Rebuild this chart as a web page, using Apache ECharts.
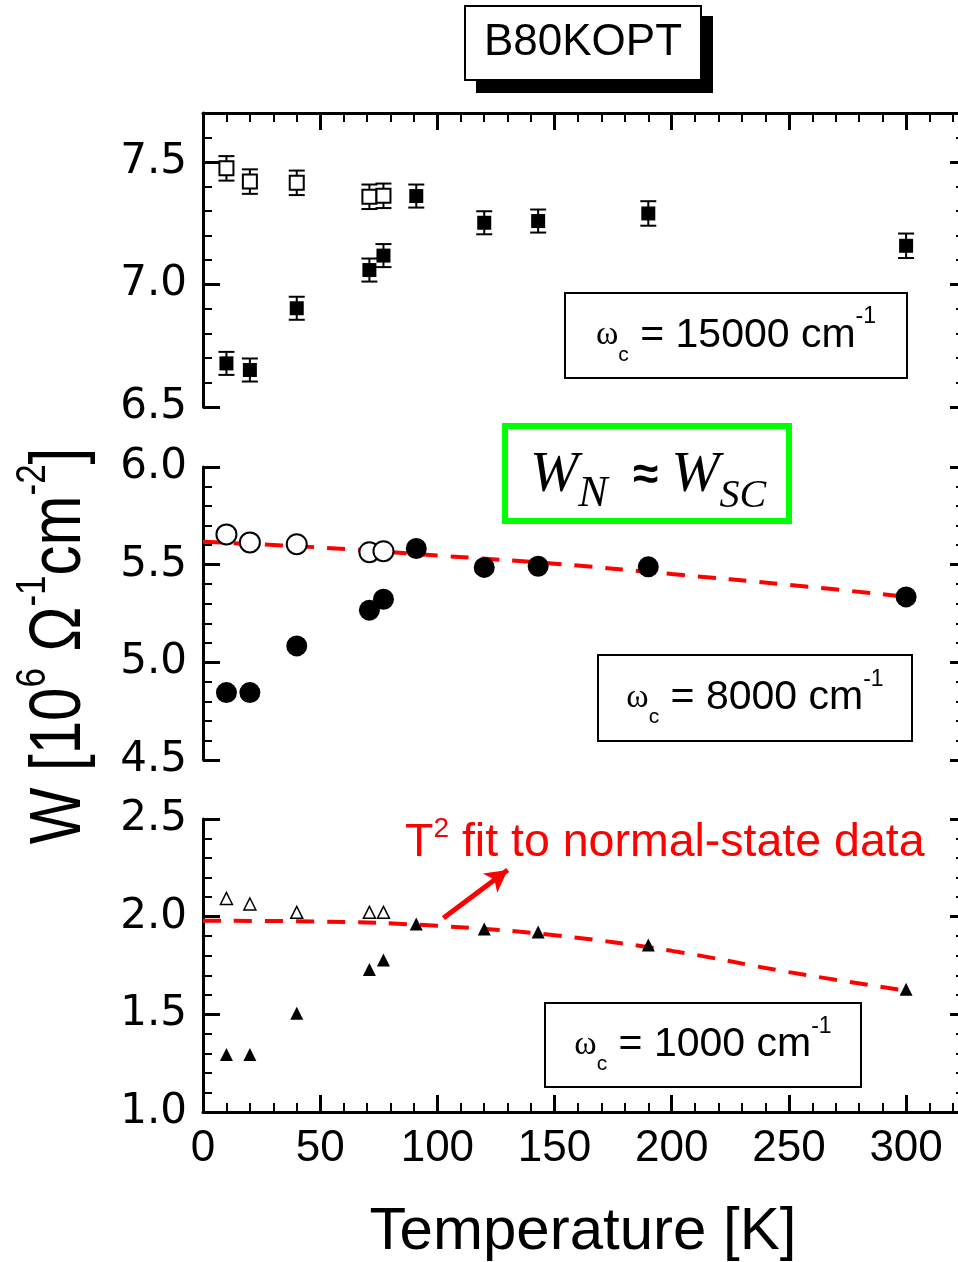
<!DOCTYPE html>
<html>
<head>
<meta charset="utf-8">
<script src="https://cdn.jsdelivr.net/npm/echarts@6/dist/echarts.min.js"></script>
<style>
  html, body { margin: 0; padding: 0; background: #fff; }
  #chart { width: 958px; height: 1262px; }
</style>
</head>
<body>
<div id="chart"></div>
<script>
// temperatures [K]
const tempSC = [10, 20, 40, 71, 77];
const tempAll = [10, 20, 40, 71, 77, 91, 120, 143, 190, 300];
const tempFit = [0, 50, 100, 150, 200, 250, 300];

// wc = 15000 cm-1
const w15000Open = [7.474, 7.420, 7.415, 7.358, 7.362];
const err15000Open = [0.05, 0.05, 0.05, 0.05, 0.05];
const w15000 = [6.678, 6.651, 6.903, 7.059, 7.118, 7.361, 7.252, 7.259, 7.290, 7.158];
const err15000 = [0.047, 0.047, 0.047, 0.047, 0.047, 0.047, 0.047, 0.047, 0.05, 0.05];

// wc = 8000 cm-1
const w8000Open = [5.655, 5.614, 5.605, 5.564, 5.569];
const w8000 = [4.845, 4.845, 5.084, 5.267, 5.323, 5.583, 5.486, 5.492, 5.489, 5.335];
const fit8000 = [5.617, 5.588, 5.547, 5.505, 5.452, 5.397, 5.336];

// wc = 1000 cm-1
const w1000Open = [2.093, 2.065, 2.022, 2.022, 2.022];
const w1000 = [1.295, 1.295, 1.505, 1.730, 1.778, 1.962, 1.937, 1.921, 1.855, 1.628];
const fit1000 = [1.979, 1.975, 1.953, 1.905, 1.825, 1.716, 1.621];

// arrow from the fit label down to the curve
const arrowFrom = [102.6, 1.993];
const arrowTo = [130, 2.239];

// axis ranges
const xRange = [0, 323];
const yRanges = [[6.5, 7.7], [4.5, 6.0], [1.0, 2.5]];

const SANS = '"Liberation Sans", Arial, sans-serif';
const SERIF = '"Liberation Serif", "Times New Roman", serif';
const RED = '#ff0000';

const zip = (xs, ys) => xs.map((x, i) => [x, ys[i]]);

const grids = [
  { left: 203, top: 113, width: 757, height: 294 },
  { left: 203, top: 467, width: 757, height: 293 },
  { left: 203, top: 819, width: 757, height: 293 },
].map(g => Object.assign(g, { outerBoundsMode: 'none', containLabel: false }));

const blackLine = { color: '#000', width: 3 };

function xAxis(i, pos, show) {
  return {
    type: 'value', gridIndex: i, position: pos, show: show,
    min: xRange[0], max: xRange[1], interval: 50,
    axisLine: { show: true, onZero: false, lineStyle: blackLine },
    axisTick: { inside: true, length: 17, lineStyle: blackLine },
    minorTick: { show: true, splitNumber: 5, length: 9, lineStyle: { color: '#000', width: 2 } },
    splitLine: { show: false },
    axisLabel: {
      show: pos === 'bottom', margin: 15, color: '#000', fontFamily: SANS, fontSize: 44,
      formatter: v => (v % 50 === 0 ? String(v) : '')
    }
  };
}

function yAxis(i, side) {
  const left = side === 'left';
  return {
    type: 'value', gridIndex: i, position: side,
    min: yRanges[i][0], max: yRanges[i][1], interval: 0.5,
    axisLine: { show: true, onZero: false, lineStyle: blackLine },
    axisTick: { show: true, inside: true, length: left ? 17 : 10, lineStyle: blackLine },
    minorTick: { show: true, splitNumber: 5, length: left ? 9 : 4, lineStyle: { color: '#000', width: 2 } },
    splitLine: { show: false },
    axisLabel: {
      show: left, margin: 16, color: '#000', fontFamily: '"DejaVu Sans", sans-serif', fontSize: 42,
      formatter: v => (Math.abs(v * 2 - Math.round(v * 2)) < 1e-6 ? v.toFixed(1) : '')
    }
  };
}

function errorBars(i, xs, ys, errs) {
  return {
    type: 'custom', xAxisIndex: i, yAxisIndex: i * 2, z: 3, silent: true,
    data: xs.map((t, k) => [t, ys[k] - errs[k], ys[k] + errs[k]]),
    encode: { x: 0, y: [1, 2] },
    renderItem(params, api) {
      const lo = api.coord([api.value(0), api.value(1)]);
      const hi = api.coord([api.value(0), api.value(2)]);
      const hw = 8;
      const style = { stroke: '#000', lineWidth: 2 };
      return {
        type: 'group', children: [
          { type: 'line', shape: { x1: lo[0], y1: lo[1], x2: hi[0], y2: hi[1] }, style },
          { type: 'line', shape: { x1: lo[0] - hw, y1: lo[1], x2: lo[0] + hw, y2: lo[1] }, style },
          { type: 'line', shape: { x1: hi[0] - hw, y1: hi[1], x2: hi[0] + hw, y2: hi[1] }, style }
        ]
      };
    }
  };
}

function points(i, xs, ys, symbol, size, open, bw) {
  return {
    type: 'scatter', xAxisIndex: i, yAxisIndex: i * 2, z: 5, silent: true,
    symbol: symbol, symbolSize: size,
    itemStyle: open
      ? { color: '#fff', borderColor: '#000', borderWidth: bw || 2, opacity: 1 }
      : { color: '#000', opacity: 1 },
    data: zip(xs, ys)
  };
}

function fitLine(i, ys) {
  return {
    type: 'line', xAxisIndex: i, yAxisIndex: i * 2, z: 4, silent: true,
    smooth: 0.4, showSymbol: false, symbol: 'none',
    lineStyle: { color: RED, width: 4, type: [18, 13] },
    data: zip(tempFit, ys)
  };
}

const series = [
  errorBars(0, tempSC, w15000Open, err15000Open),
  errorBars(0, tempAll, w15000, err15000),
  points(0, tempSC, w15000Open, 'rect', 14, true),
  points(0, tempAll, w15000, 'rect', 14, false),

  fitLine(1, fit8000),
  points(1, tempSC, w8000Open, 'circle', 20, true),
  points(1, tempAll, w8000, 'circle', 21, false),

  Object.assign(fitLine(2, fit1000), {
    markLine: {
      silent: true, symbol: ['none', 'arrow'], symbolSize: [18, 22],
      label: { show: false },
      lineStyle: { color: RED, width: 5, type: 'solid' },
      data: [[{ coord: arrowFrom }, { coord: arrowTo }]]
    }
  }),
  points(2, tempSC, w1000Open, 'triangle', 12, true, 1.5),
  points(2, tempAll, w1000, 'triangle', 13, false),
];

// text boxes and titles
function omegaBox(x, y, w, h, value) {
  return {
    type: 'group', children: [
      { type: 'rect', shape: { x: x, y: y, width: w, height: h }, style: { fill: '#fff', stroke: '#000', lineWidth: 2 } },
      {
        type: 'text', x: x + w / 2, y: y + h / 2,
        style: {
          text: '{w|ω}{sub|c}{m| = ' + value + ' cm}{sup|-1}',
          align: 'center', verticalAlign: 'middle',
          rich: {
            w: { fontFamily: SERIF, fontSize: 34, lineHeight: 60, fill: '#000' },
            sub: { fontFamily: SANS, fontSize: 21, lineHeight: 18, verticalAlign: 'bottom', fill: '#000' },
            m: { fontFamily: SANS, fontSize: 41, lineHeight: 60, fill: '#000' },
            sup: { fontFamily: SANS, fontSize: 23, lineHeight: 26, verticalAlign: 'top', fill: '#000' }
          }
        }
      }
    ]
  };
}

const graphic = [
  // sample title with drop shadow
  { type: 'rect', shape: { x: 476, y: 16, width: 237, height: 77 }, style: { fill: '#000' } },
  { type: 'rect', shape: { x: 465, y: 6, width: 236, height: 74 }, style: { fill: '#fff', stroke: '#000', lineWidth: 2 } },
  {
    type: 'text', x: 583, y: 43,
    style: { text: 'B80KOPT', font: '44px ' + SANS, fill: '#000', align: 'center', verticalAlign: 'middle' }
  },

  omegaBox(565, 293, 342, 85, '15000'),
  omegaBox(598, 655, 314, 86, '8000'),
  omegaBox(545, 1003, 316, 84, '1000'),

  // W_N ~ W_SC
  { type: 'rect', shape: { x: 505, y: 426, width: 284, height: 95 }, style: { fill: '#fff', stroke: '#00ff00', lineWidth: 6 } },
  {
    type: 'text', x: 648, y: 476,
    style: {
      text: '{W|W}{N|N}{a|  ≈ }{W|W}{S|SC}',
      align: 'center', verticalAlign: 'middle',
      rich: {
        W: { fontFamily: SERIF, fontStyle: 'italic', fontSize: 58, lineHeight: 80, fill: '#000' },
        N: { fontFamily: SERIF, fontStyle: 'italic', fontSize: 44, lineHeight: 46, verticalAlign: 'bottom', fill: '#000' },
        S: { fontFamily: SERIF, fontStyle: 'italic', fontSize: 40, lineHeight: 38, verticalAlign: 'bottom', fill: '#000' },
        a: { fontFamily: SANS, fontWeight: 'bold', fontSize: 46, lineHeight: 80, fill: '#000' }
      }
    }
  },

  // fit annotation
  {
    type: 'text', x: 405, y: 843,
    style: {
      text: '{a|T}{s|2}{a| fit to normal-state data}',
      align: 'left', verticalAlign: 'middle',
      rich: {
        a: { fontFamily: SANS, fontSize: 46.5, lineHeight: 56, fill: RED },
        s: { fontFamily: SANS, fontSize: 28, lineHeight: 46, verticalAlign: 'top', fill: RED }
      }
    }
  },

  // axis titles
  {
    type: 'text', x: 583, y: 1232,
    style: { text: 'Temperature [K]', font: '60px ' + SANS, fill: '#000', align: 'center', verticalAlign: 'middle' }
  },
  {
    type: 'text', x: 60, y: 646, rotation: Math.PI / 2, scaleY: 1.2,
    style: {
      text: '{a|W [10}{s|6}{a| Ω}{s|-1}{a|cm}{s|-2}{a|]}',
      align: 'center', verticalAlign: 'middle',
      rich: {
        a: { fontFamily: SANS, fontSize: 60, lineHeight: 80, fill: '#000' },
        s: { fontFamily: SANS, fontSize: 35, lineHeight: 40, verticalAlign: 'top', fill: '#000' }
      }
    }
  }
];

const chart = echarts.init(document.getElementById('chart'), null, { renderer: 'canvas' });
chart.setOption({
  animation: false,
  backgroundColor: '#fff',
  grid: grids,
  xAxis: [xAxis(0, 'top', true), xAxis(1, 'bottom', false), xAxis(2, 'bottom', true)],
  yAxis: [yAxis(0, 'left'), yAxis(0, 'right'), yAxis(1, 'left'), yAxis(1, 'right'), yAxis(2, 'left'), yAxis(2, 'right')],
  series: series,
  graphic: graphic
});
</script>
</body>
</html>
